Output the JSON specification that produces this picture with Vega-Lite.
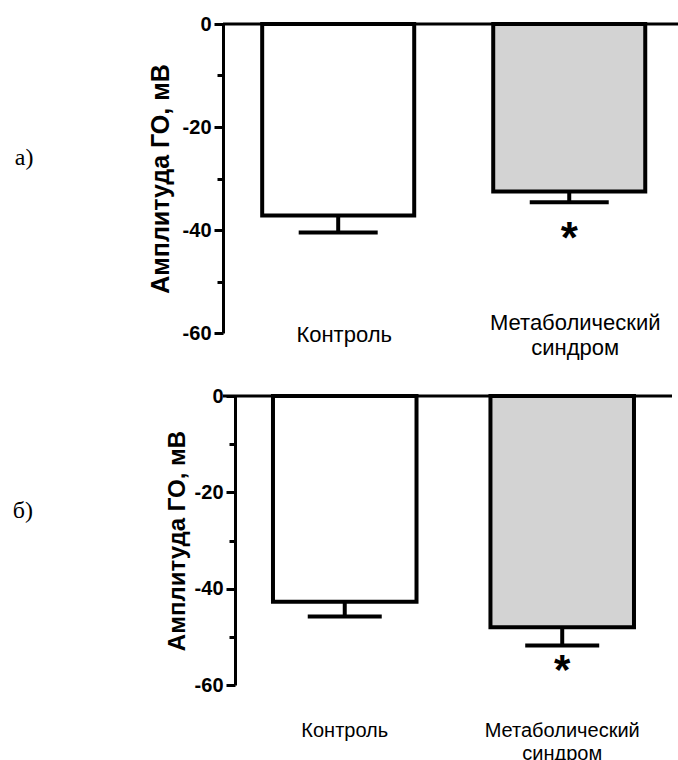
{
  "$schema": "https://vega.github.io/schema/vega-lite/v6.json",
  "background": "white",
  "padding": {"left": 12, "top": 14, "right": 0, "bottom": 0},
  "columns": 1,
  "spacing": 28,
  "config": {"view": {"stroke": null}, "font": "Liberation Sans"},
  "concat": [
    {
      "width": 457,
      "height": 309,
      "title": {"text": "а)", "orient": "left", "angle": 0, "font": "Liberation Serif", "fontSize": 24, "fontWeight": "normal", "color": "black", "frame": "group", "anchor": "middle", "baseline": "middle", "align": "right", "offset": 96, "dy": -21},
      "data": {"values": [
        {"group": "Контроль", "mean": -37.2, "lower": -40.5, "star": "", "star_y": -39.6},
        {"group": "Метаболический синдром", "mean": -32.5, "lower": -34.6, "star": "*", "star_y": -39.6}
      ]},
      "layer": [
        {
          "mark": {"type": "bar", "stroke": "black", "strokeWidth": 4},
          "encoding": {
            "x": {"field": "group", "type": "nominal", "sort": null, "title": null,
              "scale": {"paddingInner": 0.342, "paddingOuter": 0.16, "align": 0.53},
              "axis": {"domain": false, "ticks": false, "labelAngle": 0, "labelFont": "Liberation Sans", "labelFontSize": 22, "labelColor": "black", "labelBaseline": "middle", "labelLineHeight": 25, "labelOffset": 6,
                "labelPadding": {"condition": {"test": "datum.value == 'Метаболический синдром'", "value": -11}, "value": 1},
                "labelExpr": "datum.label == 'Метаболический синдром' ? ['Метаболический', 'синдром'] : datum.label"}},
            "y": {"field": "mean", "type": "quantitative", "title": "Амплитуда ГО, мВ", "scale": {"domain": [-60, 0], "nice": false},
              "axis": {"titleFont": "Liberation Sans", "titleFontSize": 25, "titleFontWeight": "bold", "titleColor": "black", "titlePadding": 9,
                "values": [0, -10, -20, -30, -40, -50, -60],
                "labelExpr": "datum.value % 20 === 0 ? '' + datum.value : ''",
                "labelFont": "Liberation Sans", "labelFontSize": 20, "labelFontWeight": "bold", "labelColor": "black", "labelPadding": 3, "labelFlush": false, "labelOverlap": false,
                "tickSize": {"condition": {"test": "datum.value % 20 === 0", "value": 9}, "value": 6},
                "tickWidth": 3, "tickColor": "black", "domainColor": "black", "domainWidth": 3, "grid": false}},
            "fill": {"field": "group", "type": "nominal", "scale": {"domain": ["Контроль", "Метаболический синдром"], "range": ["#ffffff", "#d3d3d3"]}, "legend": null}
          }
        },
        {
          "mark": {"type": "rule", "color": "black", "strokeWidth": 4},
          "encoding": {
            "x": {"field": "group", "type": "nominal", "sort": null, "title": null},
            "y": {"field": "mean", "type": "quantitative", "title": "Амплитуда ГО, мВ"},
            "y2": {"field": "lower"}
          }
        },
        {
          "mark": {"type": "tick", "color": "black", "thickness": 4, "size": 79, "opacity": 1},
          "encoding": {
            "x": {"field": "group", "type": "nominal", "sort": null, "title": null},
            "y": {"field": "lower", "type": "quantitative", "title": "Амплитуда ГО, мВ"}
          }
        },
        {
          "data": {"values": [{"v": 0}]},
          "mark": {"type": "rule", "color": "black", "strokeWidth": 3},
          "encoding": {"y": {"field": "v", "type": "quantitative", "title": "Амплитуда ГО, мВ"}}
        },
        {
          "mark": {"type": "text", "fontSize": 44, "fontWeight": "bold", "color": "black", "baseline": "middle", "dy": 12},
          "encoding": {
            "x": {"field": "group", "type": "nominal", "sort": null, "title": null},
            "y": {"field": "star_y", "type": "quantitative", "title": "Амплитуда ГО, мВ"},
            "text": {"field": "star"}
          }
        }
      ]
    },
    {
      "width": 449,
      "height": 289,
      "title": {"text": "б)", "orient": "left", "angle": 0, "font": "Liberation Serif", "fontSize": 24, "fontWeight": "normal", "color": "black", "frame": "group", "anchor": "middle", "baseline": "middle", "align": "right", "offset": 112, "dy": -30},
      "data": {"values": [
        {"group": "Контроль", "mean": -42.7, "lower": -45.8, "star": "", "star_y": -54.6},
        {"group": "Метаболический синдром", "mean": -48.0, "lower": -51.8, "star": "*", "star_y": -54.6}
      ]},
      "layer": [
        {
          "mark": {"type": "bar", "stroke": "black", "strokeWidth": 4},
          "encoding": {
            "x": {"field": "group", "type": "nominal", "sort": null, "title": null,
              "scale": {"paddingInner": 0.34, "paddingOuter": 0.2023, "align": 0.568},
              "axis": {"domain": false, "ticks": false, "labelAngle": 0, "labelFont": "Liberation Sans", "labelFontSize": 20, "labelColor": "black", "labelBaseline": "top", "labelPadding": 35, "labelLineHeight": 23,
                "labelExpr": "datum.label == 'Метаболический синдром' ? ['Метаболический', 'синдром'] : datum.label"}},
            "y": {"field": "mean", "type": "quantitative", "title": "Амплитуда ГО, мВ", "scale": {"domain": [-60, 0], "nice": false},
              "axis": {"offset": -12, "titleFont": "Liberation Sans", "titleFontSize": 24, "titleFontWeight": "bold", "titleColor": "black", "titlePadding": 5,
                "values": [0, -10, -20, -30, -40, -50, -60],
                "labelExpr": "datum.value % 20 === 0 ? '' + datum.value : ''",
                "labelFont": "Liberation Sans", "labelFontSize": 20, "labelFontWeight": "bold", "labelColor": "black", "labelPadding": 3, "labelFlush": false, "labelOverlap": false,
                "tickSize": {"condition": {"test": "datum.value % 20 === 0", "value": 9}, "value": 6},
                "tickWidth": 3, "tickColor": "black", "domainColor": "black", "domainWidth": 3, "grid": false}},
            "fill": {"field": "group", "type": "nominal", "scale": {"domain": ["Контроль", "Метаболический синдром"], "range": ["#ffffff", "#d3d3d3"]}, "legend": null}
          }
        },
        {
          "mark": {"type": "rule", "color": "black", "strokeWidth": 4},
          "encoding": {
            "x": {"field": "group", "type": "nominal", "sort": null, "title": null},
            "y": {"field": "mean", "type": "quantitative", "title": "Амплитуда ГО, мВ"},
            "y2": {"field": "lower"}
          }
        },
        {
          "mark": {"type": "tick", "color": "black", "thickness": 4, "size": 74, "opacity": 1},
          "encoding": {
            "x": {"field": "group", "type": "nominal", "sort": null, "title": null},
            "y": {"field": "lower", "type": "quantitative", "title": "Амплитуда ГО, мВ"}
          }
        },
        {
          "data": {"values": [{"v": 0}]},
          "mark": {"type": "rule", "color": "black", "strokeWidth": 3},
          "encoding": {"y": {"field": "v", "type": "quantitative", "title": "Амплитуда ГО, мВ"}}
        },
        {
          "mark": {"type": "text", "fontSize": 42, "fontWeight": "bold", "color": "black", "baseline": "middle", "dy": 12},
          "encoding": {
            "x": {"field": "group", "type": "nominal", "sort": null, "title": null},
            "y": {"field": "star_y", "type": "quantitative", "title": "Амплитуда ГО, мВ"},
            "text": {"field": "star"}
          }
        }
      ]
    }
  ]
}
